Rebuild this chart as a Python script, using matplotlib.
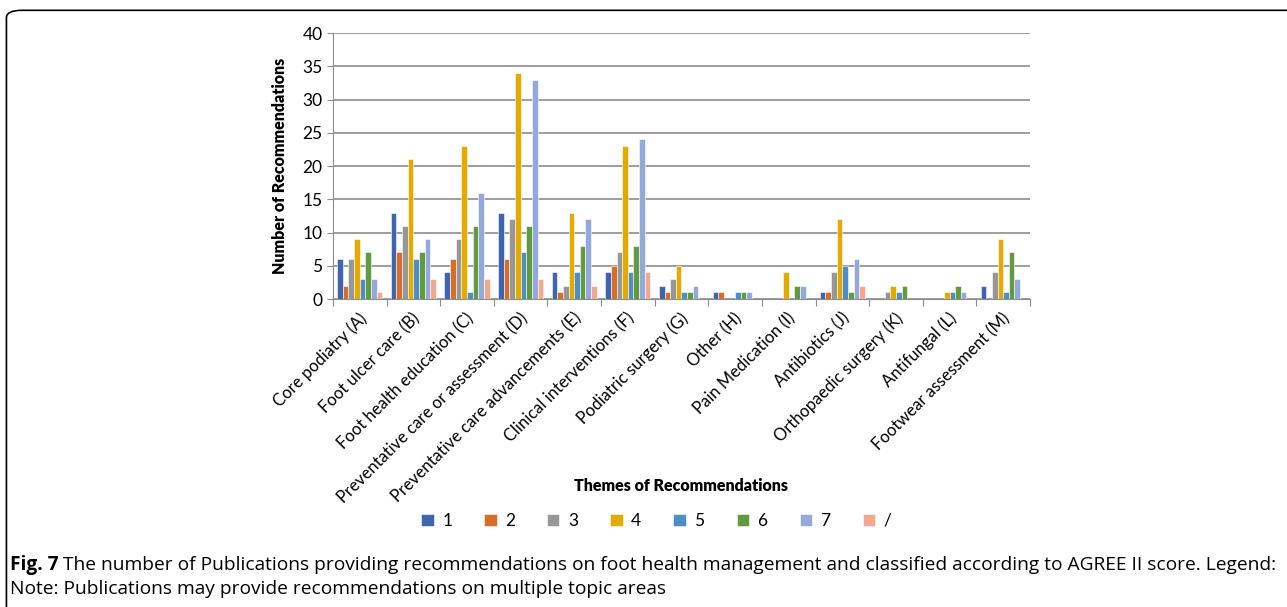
import numpy as np
import matplotlib.pyplot as plt
from matplotlib.patches import FancyBboxPatch

plt.rcParams['font.family'] = ['Lato', 'DejaVu Sans']

themes = ["Core podiatry (A)", "Foot ulcer care (B)", "Foot health education (C)",
          "Preventative care or assessment (D)", "Preventative care advancements (E)",
          "Clinical interventions (F)", "Podiatric surgery (G)", "Other (H)",
          "Pain Medication (I)", "Antibiotics (J)", "Orthopaedic surgery (K)",
          "Antifungal (L)", "Footwear assessment (M)"]
score_labels = ["1", "2", "3", "4", "5", "6", "7", "/"]

s1 = [6, 13, 4, 13, 4, 4, 2, 1, 0, 1, 0, 0, 2]
s2 = [2, 7, 6, 6, 1, 5, 1, 1, 0, 1, 0, 0, 0]
s3 = [6, 11, 9, 12, 2, 7, 3, 0, 0, 4, 1, 0, 4]
s4 = [9, 21, 23, 34, 13, 23, 5, 0, 4, 12, 2, 1, 9]
s5 = [3, 6, 1, 7, 4, 4, 1, 1, 0, 5, 1, 1, 1]
s6 = [7, 7, 11, 11, 8, 8, 1, 1, 2, 1, 2, 2, 7]
s7 = [3, 9, 16, 33, 12, 24, 2, 1, 2, 6, 0, 1, 3]
s_na = [1, 3, 3, 3, 2, 4, 0, 0, 0, 2, 0, 0, 0]
series = [s1, s2, s3, s4, s5, s6, s7, s_na]

colors = ['#3F64B0', '#D46E2A', '#979797', '#E3AB00', '#4F8DC4', '#629B3F', '#93A9D9', '#F1A88C']

fig = plt.figure(figsize=(12.87, 6.07), dpi=100)
ax = fig.add_axes([0.2587, 0.5074, 0.5416, 0.4382])

x = np.arange(len(themes))
w = 0.105
for i, vals in enumerate(series):
    ax.bar(x + (i - 3.5) * w, vals, width=w, color=colors[i], label=score_labels[i],
           edgecolor='white', linewidth=0.4, zorder=3)

ax.set_xlim(-0.5, len(themes) - 0.5)
ax.set_ylim(0, 40)
ax.set_yticks(range(0, 41, 5))
ax.yaxis.grid(True, color='#8C8C8C', linewidth=1.2, zorder=0)
for side in ['top', 'right']:
    ax.spines[side].set_visible(False)
ax.spines['left'].set_color('#8C8C8C')
ax.spines['bottom'].set_color('#8C8C8C')
ax.set_xticks(np.arange(-0.5, len(themes), 1))
ax.set_xticklabels([])
ax.set_xticks(x + 0.08, minor=True)
ax.set_xticklabels(themes, minor=True, rotation=45, ha='right', va='center',
                   rotation_mode='anchor', fontsize=12)
ax.tick_params(axis='x', which='minor', length=0, pad=12)
ax.tick_params(axis='x', which='major', length=5, color='#8C8C8C')
ax.tick_params(axis='y', length=4, color='#8C8C8C', labelsize=12.5)

ax.set_ylabel("Number of Recommendations", fontsize=11.5, fontweight='heavy', labelpad=10)
fig.text(0.529, 0.199, "Themes of Recommendations", ha='center', va='center',
         fontsize=11.5, fontweight='heavy')

fig.legend(loc='center', bbox_to_anchor=(0.51, 0.142), ncol=8, frameon=False,
           fontsize=12.5, handlelength=0.7, handleheight=0.7, columnspacing=1.85, handletextpad=0.5)

cap = dict(family=['Open Sans', 'DejaVu Sans'], fontsize=13.8)
fig.text(0.008, 0.061, "Fig. 7", fontweight='bold', **cap)
fig.text(0.0487, 0.061, "The number of Publications providing recommendations on foot health management "
         "and classified according to AGREE II score. Legend:", **cap)
fig.text(0.008, 0.021, "Note: Publications may provide recommendations on multiple topic areas", **cap)

box = FancyBboxPatch((0.005, -0.05), 1.05, 1.033, boxstyle="round,pad=0,rounding_size=0.012",
                     transform=fig.transFigure, facecolor='none', edgecolor='black', linewidth=1.2)
fig.patches.append(box)

fig.savefig("out.png", dpi=100)
